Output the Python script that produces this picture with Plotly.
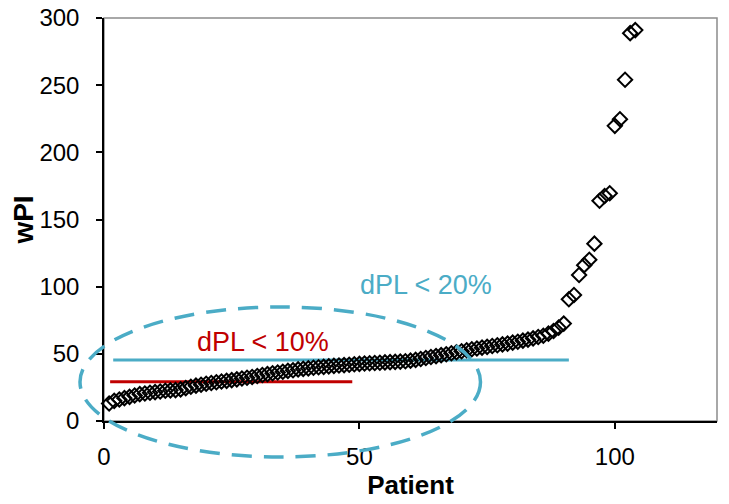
import plotly.graph_objects as go

# ---- data ----
patient = list(range(1, 105))
wpi = [13, 15, 16, 17, 18, 19, 20, 20.5, 21, 21.5,
       22, 22.5, 22.8, 23, 23.5, 24.5, 25.5, 26.3, 27, 27.7,
       28.3, 28.8, 29.4, 29.9, 30.4, 31, 31.6, 32.2, 32.8, 33.5,
       34.2, 34.9, 35.5, 36.1, 36.7, 37.3, 37.8, 38.4, 38.8, 39.2,
       39.6, 40, 40.3, 40.7, 41, 41.3, 41.6, 41.9, 42.2, 42.5,
       42.8, 43, 43.2, 43.4, 43.6, 43.8, 44, 44.2, 44.5, 44.9,
       45.5, 46.2, 46.9, 47.6, 48.3, 49, 49.7, 50.4, 51.2, 51.9,
       52.7, 53.4, 54, 54.6, 55.2, 55.8, 56.4, 57, 57.6, 58.3,
       59, 59.8, 60.6, 61.5, 62.5, 63.5, 65, 67, 69.5, 72.5,
       90.6, 93.8, 108.7, 116, 120, 132, 164, 167.5, 169.5, 219.7,
       224.6, 254, 288.7, 291]

# threshold lines: (x start, x end, level)
line20_x = [1.8, 91]
line20_y = [45.4, 45.4]
line10_x = [1.2, 48.6]
line10_y = [29.2, 29.2]

# ellipse bounds in data units
ell_x = [-4.7, 73.7]
ell_y = [-26.8, 84.9]

x_range = [0, 120]
y_range = [0, 300]
x_ticks = [0, 50, 100]
y_ticks = [0, 50, 100, 150, 200, 250, 300]

BLUE = "#4BACC6"
RED = "#C00000"
FONT = "Liberation Sans, Arial, sans-serif"

def xd(v):
    return (v - x_range[0]) / (x_range[1] - x_range[0])

def yd(v):
    return (v - y_range[0]) / (y_range[1] - y_range[0])

fig = go.Figure()

fig.add_trace(go.Scatter(x=line20_x, y=line20_y, mode="lines",
                         line=dict(color=BLUE, width=3.2), showlegend=False))
fig.add_trace(go.Scatter(x=line10_x, y=line10_y, mode="lines",
                         line=dict(color=RED, width=3.2), showlegend=False))
fig.add_trace(go.Scatter(x=patient, y=wpi, mode="markers",
                         marker=dict(symbol="diamond-open", size=11, color="black",
                                     line=dict(width=2, color="black")),
                         cliponaxis=False, showlegend=False))

shapes = [
    dict(type="rect", xref="x domain", yref="y domain", x0=0, x1=1, y0=0, y1=1,
         line=dict(color="#8c8c8c", width=1.5), layer="below"),
    dict(type="circle", xref="x domain", yref="y domain",
         x0=xd(ell_x[0]), x1=xd(ell_x[1]), y0=yd(ell_y[0]), y1=yd(ell_y[1]),
         line=dict(color=BLUE, width=3.5, dash="20px,12px"), layer="above"),
]

annotations = [
    dict(x=63.1, y=101, xref="x", yref="y", text="dPL < 20%", showarrow=False,
         font=dict(family=FONT, size=27, color=BLUE)),
    dict(x=31.1, y=59, xref="x", yref="y", text="dPL < 10%", showarrow=False,
         font=dict(family=FONT, size=27, color=RED)),
]

# page body has an 8px margin, so the figure is 8px smaller and margins shifted
fig.update_layout(
    width=721, height=496,
    margin=dict(l=96, r=12, t=10, b=83),
    paper_bgcolor="white", plot_bgcolor="white",
    font=dict(family=FONT, size=24, color="black"),
    shapes=shapes, annotations=annotations,
    xaxis=dict(range=x_range, tickmode="array", tickvals=x_ticks, automargin=False,
               tickfont=dict(size=24), ticklabeloverflow="allow",
               showgrid=False, zeroline=False, showline=True, linecolor="black", linewidth=1.5,
               ticks="outside", ticklen=6, tickwidth=1.5, tickcolor="black",
               ticklabelstandoff=7,
               title=dict(text="<b>Patient</b>", font=dict(size=26), standoff=4)),
    yaxis=dict(range=y_range, tickmode="array", tickvals=y_ticks, automargin=False,
               tickfont=dict(size=24), ticklabeloverflow="allow",
               showgrid=False, zeroline=False, showline=True, linecolor="black", linewidth=1.5,
               ticks="outside", ticklen=6, tickwidth=1.5, tickcolor="black",
               ticklabelstandoff=12,
               title=dict(text="<b>wPI</b>", font=dict(size=28), standoff=10)),
)

fig.write_html("out.html")
